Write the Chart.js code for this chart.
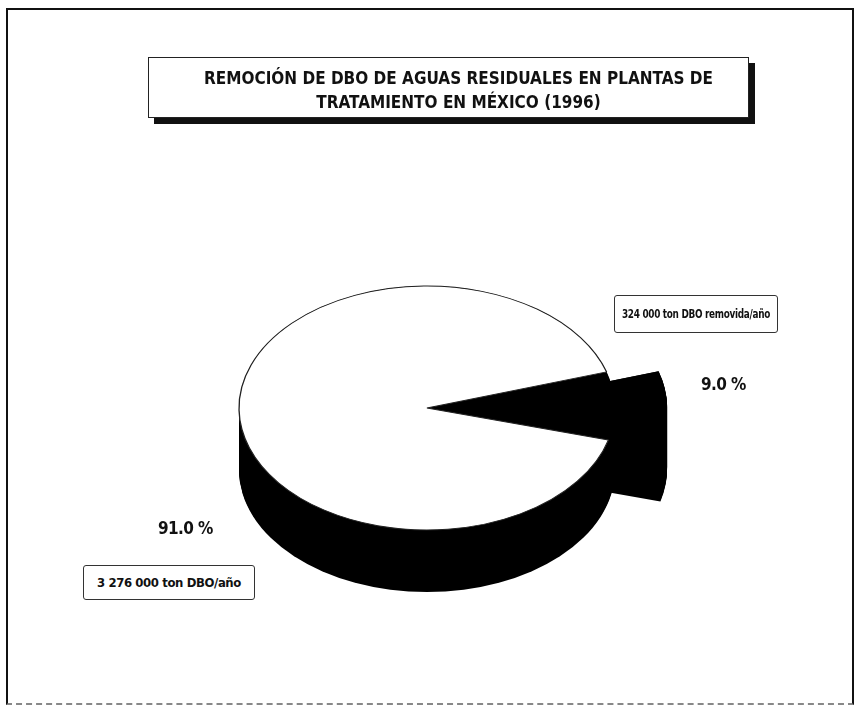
<!DOCTYPE html>
<html lang="es">
<head>
    <meta charset="UTF-8">
    <title>Remoción de DBO</title>
    <script src="https://cdn.jsdelivr.net/npm/chart.js"></script>
    <style>
        body {
            margin: 0;
            background: #fff;
            font-family: 'Liberation Sans Narrow', 'DejaVu Sans Condensed', 'Liberation Sans', sans-serif;
            color: #111;
        }
        #wrap { position: relative; width: 855px; height: 721px; overflow: hidden; }
        #pie { position: absolute; left: 0; top: 0; }
        .frame {
            position: absolute; left: 6px; top: 8px; width: 844px; height: 693px;
            border: 2px solid #111; border-bottom: 2px dashed #888;
        }
        .title {
            position: absolute; left: 148px; top: 57px; width: 601px; height: 61px;
            box-sizing: border-box; padding-top: 8px; padding-left: 20px;
            border: 1px solid #222; background: #fff;
            box-shadow: 6px 6px 0 #111;
            text-align: center; font-weight: bold; font-size: 17px; line-height: 24px;
            letter-spacing: 0;
        }
        .box {
            position: absolute; box-sizing: border-box;
            border: 1px solid #333; border-radius: 3px; background: #fff;
            font-weight: bold; font-size: 13px; letter-spacing: -0.4px;
            text-align: center; white-space: nowrap;
        }
        .box .narrow {
            position: absolute; left: 50%; top: 0;
            transform: translateX(-50%) scaleX(0.76);
        }
        .pct { position: absolute; font-weight: bold; font-size: 17px; letter-spacing: -0.6px; }
    </style>
</head>
<body>
<div id="wrap">
    <canvas id="pie" width="855" height="721"></canvas>
    <div class="frame"></div>
    <div class="title">REMOCIÓN DE DBO DE AGUAS RESIDUALES EN PLANTAS DE<br>TRATAMIENTO EN MÉXICO (1996)</div>
    <div class="box" style="left:614px; top:295px; width:164px; height:38px; line-height:36px;"><span class="narrow" id="box0"></span></div>
    <div class="box" style="left:83px; top:565px; width:172px; height:35px; line-height:33px;"><span id="box1"></span></div>
    <div class="pct" id="pct0" style="left:701px; top:374px;"></div>
    <div class="pct" id="pct1" style="left:158px; top:518px;"></div>
</div>

<script>
    // data
    const categories = ['DBO removida', 'DBO no removida'];
    const tonValues = [324000, 3276000];
    const boxLabels = ['324 000  ton DBO removida/año', '3 276 000 ton DBO/año'];
    const sliceColors = ['#000000', '#ffffff'];

    // 3d look
    const squash = 122 / 188;
    const depth = 62;
    const explodePx = 52;
    const explodeIndex = 0;

    const total = tonValues.reduce((a, b) => a + b, 0);
    tonValues.forEach((v, i) => {
        document.getElementById('pct' + i).innerText = (v / total * 100).toFixed(1) + ' %';
        document.getElementById('box' + i).textContent = boxLabels[i];
    });

    function slicePath(ctx, arc, dx, dy) {
        ctx.beginPath();
        ctx.moveTo(arc.x + dx, arc.y + dy);
        ctx.arc(arc.x + dx, arc.y + dy, arc.outerRadius, arc.startAngle, arc.endAngle);
        ctx.closePath();
    }

    const pie3d = {
        id: 'pie3d',
        beforeDatasetsDraw(chart) {
            const ctx = chart.ctx;
            const arcs = chart.getDatasetMeta(0).data;
            const cx = arcs[0].x, cy = arcs[0].y, r = arcs[0].outerRadius;
            const ex = arcs[explodeIndex];
            const mid = (ex.startAngle + ex.endAngle) / 2;
            const edx = Math.cos(mid) * explodePx, edy = Math.sin(mid) * explodePx;

            const squashAt = (off) => {
                ctx.translate(0, off);
                ctx.translate(cx, cy);
                ctx.scale(1, squash);
                ctx.translate(-cx, -cy);
            };

            // side walls
            for (let d = depth; d >= 0; d--) {
                ctx.save();
                squashAt(d);
                ctx.fillStyle = '#000';
                ctx.beginPath();
                ctx.arc(cx, cy, r, 0, Math.PI * 2);
                ctx.fill();
                slicePath(ctx, ex, edx, edy);
                ctx.fill();
                ctx.restore();
            }

            // top faces, drawn by the arc elements
            ctx.save();
            squashAt(0);
            arcs.forEach((arc, i) => {
                ctx.save();
                if (i === explodeIndex) ctx.translate(edx, edy);
                arc.draw(ctx);
                ctx.restore();
            });
            ctx.restore();
            return false;
        }
    };

    new Chart(document.getElementById('pie').getContext('2d'), {
        type: 'pie',
        data: {
            labels: categories,
            datasets: [{
                data: tonValues,
                backgroundColor: sliceColors,
                borderColor: ['#000000', '#222222'],
                borderWidth: [0, 1.3],
                radius: 188
            }]
        },
        options: {
            responsive: false,
            animation: false,
            events: [],
            rotation: 72.8,
            layout: { padding: { top: 95, bottom: 0, left: 0, right: 1 } },
            plugins: {
                legend: { display: false },
                tooltip: { enabled: false }
            }
        },
        plugins: [pie3d]
    });
</script>
</body>
</html>
